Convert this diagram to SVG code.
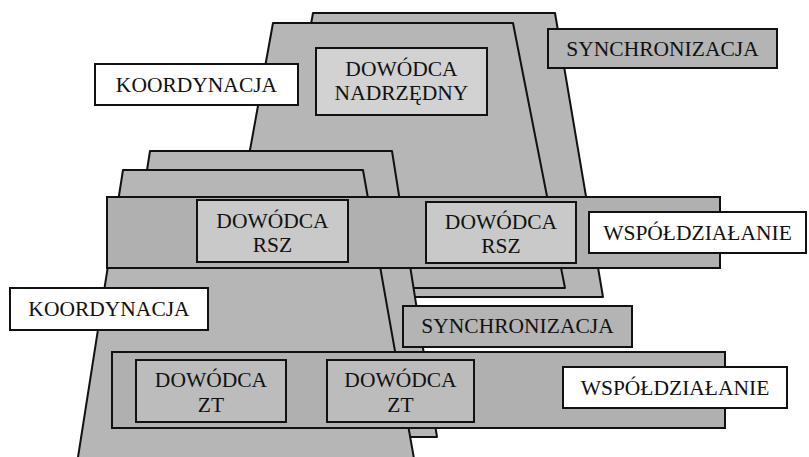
<svg xmlns="http://www.w3.org/2000/svg" width="809" height="457" viewBox="0 0 809 457">
<style>
.sheet{fill:#b6b6b6;stroke:#111;stroke-width:2;stroke-linejoin:round}
.band{fill:#b0b0b0;stroke:#111;stroke-width:2}
.cmd{fill:#c9c9c9;stroke:#111;stroke-width:2}
.top{fill:#d2d2d2;stroke:#111;stroke-width:2}
.zt{fill:#bcbcbc;stroke:#111;stroke-width:2}
.grey{fill:#b4b4b4;stroke:#111;stroke-width:2}
.white{fill:#fff;stroke:#111;stroke-width:2}
text{font-family:"Liberation Serif","Times New Roman",serif;font-size:21.5px;fill:#111;text-anchor:middle}
</style>
<rect width="809" height="457" fill="#fff"/>
<g id="level1">
<polygon class="sheet" points="313,13 555,13 603,297 262,297"/>
<polygon class="sheet" points="273,23 513,23 565,288 225,288"/>
</g>
<g id="level2">
<polygon class="sheet" points="150,151 392,151 437,437 105,437"/>
<polygon class="sheet" points="123,170 363,170 416,470 76,470"/>
</g>
<g id="band-rsz"><rect class="band" x="107" y="197" width="613" height="71"/></g>
<g id="rsz-left"><rect class="cmd" x="197" y="200" width="151" height="62"/><text x="272.5" y="228">DOWÓDCA</text><text x="272.5" y="252">RSZ</text></g>
<g id="rsz-right"><rect class="cmd" x="426" y="202" width="150" height="61"/><text x="501" y="229">DOWÓDCA</text><text x="501" y="253">RSZ</text></g>
<g id="wsp-upper"><rect class="white" x="589" y="212" width="217" height="41"/><text x="697.5" y="240">WSPÓŁDZIAŁANIE</text></g>
<g id="sync-lower"><rect class="grey" x="403" y="306" width="229" height="41"/><text x="517.5" y="333">SYNCHRONIZACJA</text></g>
<g id="band-zt"><rect class="band" x="112" y="352" width="613" height="76"/></g>
<g id="zt-left"><rect class="zt" x="136" y="360" width="150" height="62"/><text x="211" y="387">DOWÓDCA</text><text x="211" y="412">ZT</text></g>
<g id="zt-right"><rect class="zt" x="327" y="360" width="147" height="62"/><text x="400.5" y="387">DOWÓDCA</text><text x="400.5" y="412">ZT</text></g>
<g id="wsp-lower"><rect class="white" x="563" y="367" width="224" height="41"/><text x="675" y="395">WSPÓŁDZIAŁANIE</text></g>
<g id="koord-lower"><rect class="white" x="10" y="288" width="198" height="42"/><text x="109" y="316">KOORDYNACJA</text></g>
<g id="nadrzedny"><rect class="top" x="316" y="48" width="171" height="67"/><text x="401.5" y="76">DOWÓDCA</text><text x="401.5" y="100">NADRZĘDNY</text></g>
<g id="koord-upper"><rect class="white" x="95" y="64" width="203" height="41"/><text x="196.5" y="92">KOORDYNACJA</text></g>
<g id="sync-upper"><rect class="grey" x="548" y="29" width="229" height="39"/><text x="662.5" y="56">SYNCHRONIZACJA</text></g>
<g id="connectors"/>
</svg>
